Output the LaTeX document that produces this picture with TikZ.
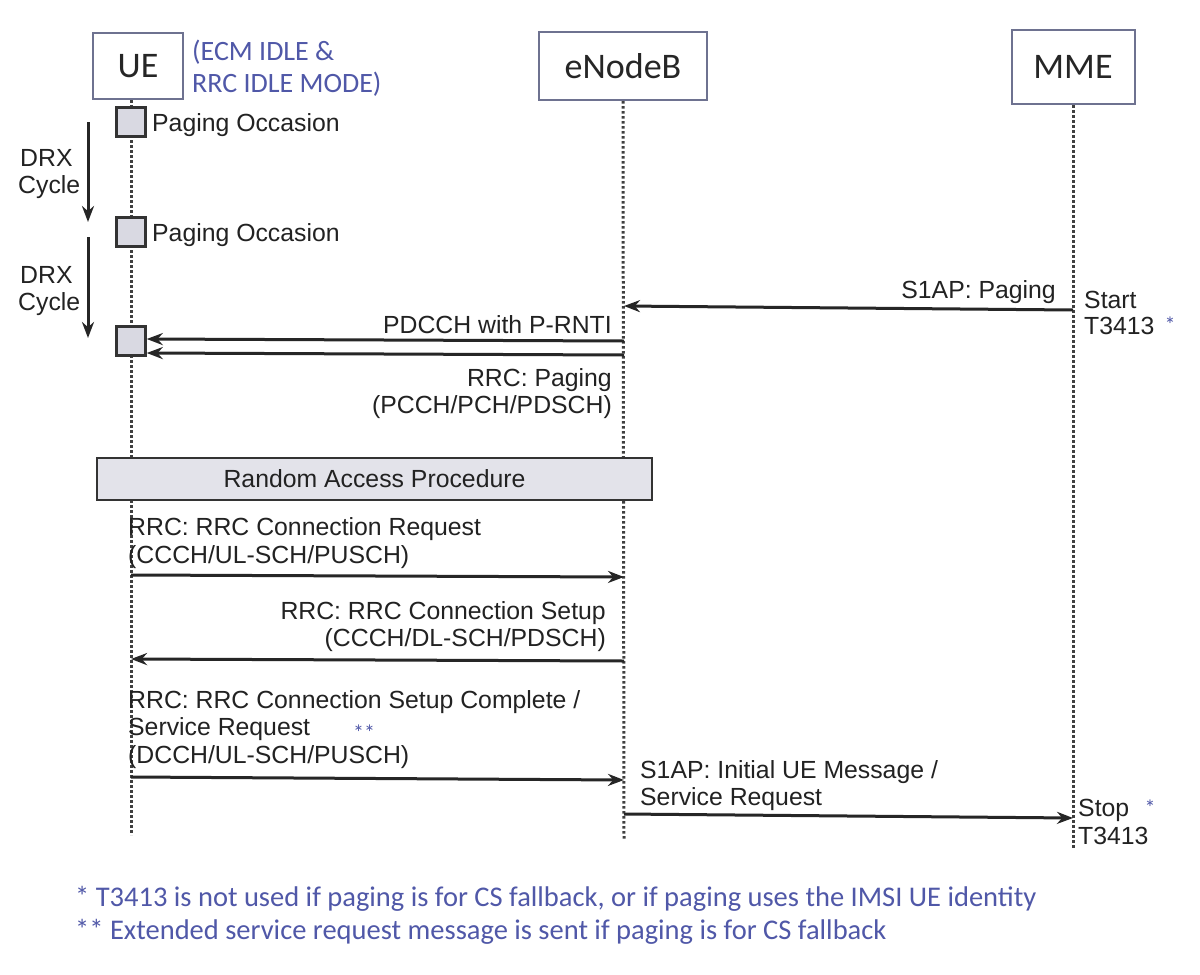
\documentclass[tikz,border=0pt]{standalone}
\usepackage{fontspec}
\setmainfont{Liberation Sans}
\newfontfamily\calfont{Carlito}
\usetikzlibrary{arrows.meta}
\definecolor{boxc}{HTML}{6E7290}
\definecolor{bluet}{HTML}{5058A8}
\definecolor{txt}{HTML}{222222}
\definecolor{pofill}{HTML}{D9D9E2}
\definecolor{rafill}{HTML}{E3E3EA}
\tikzset{
  entity/.style={draw=boxc, line width=2pt, fill=white, font=\calfont\fontsize{36}{40}\selectfont, text=black!85, inner sep=0pt},
  life/.style={draw=black!75, line width=3pt, dash pattern=on 2.5pt off 2.5pt},
  pobox/.style={draw=black!80, fill=pofill, line width=2.5pt, minimum size=29pt, inner sep=0pt},
  msg/.style={draw=black!85, line width=3pt, -{Stealth[length=16pt,width=12pt]}},
  lbl/.style={font=\fontsize{24.8}{28}\selectfont, text=txt, inner sep=0pt},
  note/.style={font=\calfont\fontsize{28.5}{32}\selectfont, text=bluet, inner sep=0pt},
  star/.style={font=\calfont\fontsize{22}{24}\selectfont, text=bluet, inner sep=0pt},
}
\begin{document}
\begin{tikzpicture}[x=1pt,y=-1pt]
\useasboundingbox[fill=white] (0,0) rectangle (1200,975);

% entities
\node[entity, minimum width=90pt, minimum height=66pt] (ue) at (138,66) {UE};
\node[entity, minimum width=168pt, minimum height=68pt] (enb) at (623,66) {eNodeB};
\node[entity, minimum width=123pt, minimum height=74pt] (mme) at (1073,67) {MME};

\node[note, font=\calfont\fontsize{28}{32}\selectfont, anchor=base west] (st1) at (192,60) {(ECM IDLE \&};
\node[note, font=\calfont\fontsize{28}{32}\selectfont, anchor=base west] (st2) at (192,92) {RRC IDLE MODE)};

% lifeline ends
\coordinate (uebot) at (131,835);
\coordinate (enbbot) at (624,840);
\coordinate (mmebot) at (1073,848);

\draw[life] (ue.south -| uebot) -- (uebot);
\draw[life] (enb.south) -- (enbbot);
\draw[life] (mme.south) -- (mmebot);

% paging occasions
\node[pobox] (po1) at (131,122) {};
\node[pobox] (po2) at (131,232) {};
\node[pobox] (po3) at (131,341) {};
\node[lbl, anchor=base west] (pol1) at (152,131) {Paging Occasion};
\node[lbl, anchor=base west] (pol2) at (152,241) {Paging Occasion};

% DRX cycles
\coordinate (d1a) at (88,122);
\coordinate (d1b) at (88,222);
\coordinate (d2a) at (88,237);
\coordinate (d2b) at (88,338);
\draw[msg] (d1a) -- (d1b);
\draw[msg] (d2a) -- (d2b);
\node[lbl, anchor=base west] (drx1a) at (20,166) {DRX};
\node[lbl, anchor=base west] (drx1b) at (18,193) {Cycle};
\node[lbl, anchor=base west] (drx2a) at (20,283) {DRX};
\node[lbl, anchor=base west] (drx2b) at (18,310) {Cycle};

% S1AP paging
\coordinate (m1s) at (1073,310);
\coordinate (m1e) at (624,306);
\draw[msg] (m1s) -- (m1e);
\node[lbl, anchor=base east] (m1l) at (1056,298) {S1AP: Paging};
\node[lbl, anchor=base west] (t1a) at (1084,308) {Start};
\node[lbl, anchor=base west] (t1b) at (1084,334) {T3413};
\node[star, anchor=base] (s1) at (1170,332) {*};

% PDCCH and RRC paging
\coordinate (m2s) at (624,341);
\draw[msg] (m2s) -- (po3.east |- 0,339);
\node[lbl, anchor=base east] (m2l) at (612,333) {PDCCH with P-RNTI};
\coordinate (m3s) at (624,355);
\draw[msg] (m3s) -- (po3.east |- 0,353);
\node[lbl, anchor=base east] (m3a) at (612,386) {RRC: Paging};
\node[lbl, anchor=base east] (m3b) at (612,413) {(PCCH/PCH/PDSCH)};

% random access
\node[draw=black!80, fill=rafill, line width=2.5pt, minimum width=555pt, minimum height=42pt, inner sep=0pt, lbl] (rap) at (374.5,479) {Random Access Procedure};

% RRC connection request
\coordinate (m4s) at (131,575);
\coordinate (m4e) at (624,577);
\draw[msg] (m4s) -- (m4e);
\node[lbl, anchor=base west] (m4a) at (128,535) {RRC: RRC Connection Request};
\node[lbl, anchor=base west] (m4b) at (128,563) {(CCCH/UL-SCH/PUSCH)};

% RRC connection setup
\coordinate (m5s) at (624,661);
\coordinate (m5e) at (131,659);
\draw[msg] (m5s) -- (m5e);
\node[lbl, anchor=base east] (m5a) at (606,619) {RRC: RRC Connection Setup};
\node[lbl, anchor=base east] (m5b) at (606,646) {(CCCH/DL-SCH/PDSCH)};

% setup complete
\coordinate (m6s) at (131,777);
\coordinate (m6e) at (624,780);
\draw[msg] (m6s) -- (m6e);
\node[lbl, anchor=base west] (m6a) at (128,708) {RRC: RRC Connection Setup Complete /};
\node[lbl, anchor=base west] (m6b) at (128,735) {Service Request};
\node[star, anchor=base] (s2) at (364,740) {**};
\node[lbl, anchor=base west] (m6c) at (128,763) {(DCCH/UL-SCH/PUSCH)};

% S1AP initial UE message
\coordinate (m7s) at (624,814);
\coordinate (m7e) at (1073,818);
\draw[msg] (m7s) -- (m7e);
\node[lbl, anchor=base west] (m7a) at (640,778) {S1AP: Initial UE Message /};
\node[lbl, anchor=base west] (m7b) at (640,805) {Service Request};
\node[lbl, anchor=base west] (t2a) at (1078,816) {Stop};
\node[star, anchor=base] (s3) at (1150,815) {*};
\node[lbl, anchor=base west] (t2b) at (1078,844) {T3413};

% footnotes
\node[note, anchor=base west] (f1) at (75,906) {* T3413 is not used if paging is for CS fallback, or if paging uses the IMSI UE identity};
\node[note, anchor=base west] (f2) at (75,939) {** Extended service request message is sent if paging is for CS fallback};
\end{tikzpicture}
\end{document}
